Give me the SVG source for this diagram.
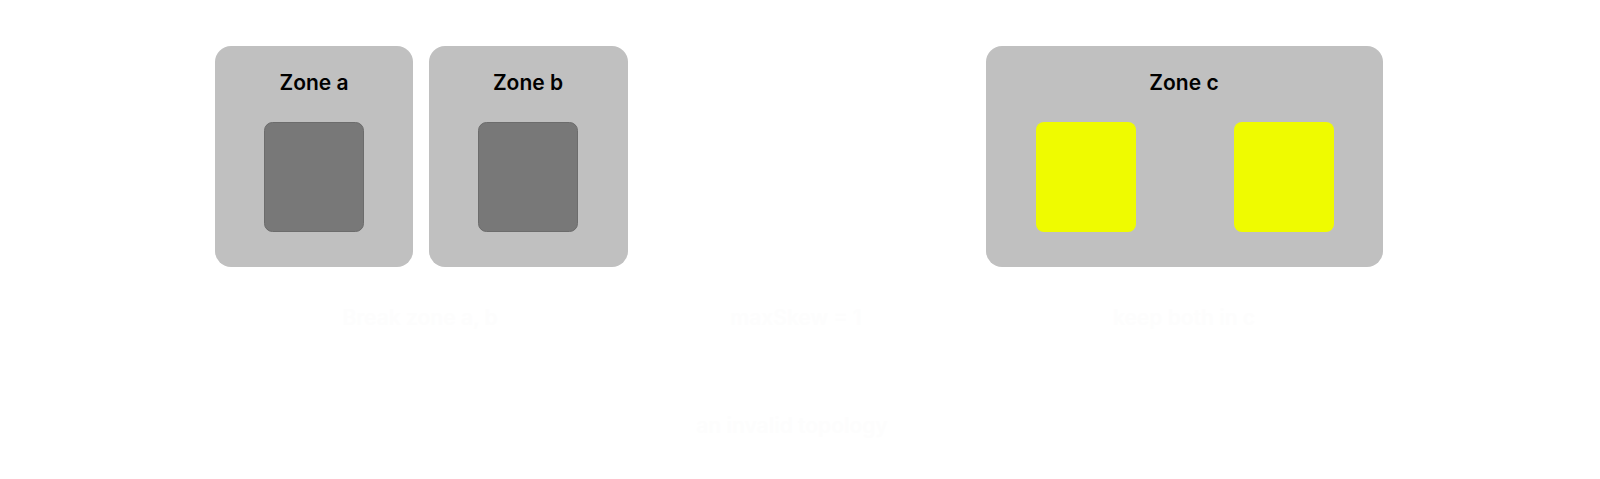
<svg xmlns="http://www.w3.org/2000/svg" width="1600" height="479" viewBox="0 0 1600 479">
<style>
.zone{fill:#c0c0c0}
.pod{fill:#787878;stroke:#6c6c6c;stroke-width:1}
.pody{fill:#effb00}
.title{font-family:Inter,"Liberation Sans",sans-serif;font-weight:600;font-size:21px;fill:#000;text-anchor:middle}
.cap{font-family:Inter,"Liberation Sans",sans-serif;font-weight:600;font-size:21px;fill:#fdfdfd;text-anchor:middle}
</style>
<rect width="1600" height="479" fill="#ffffff"/>
<g id="zone-a">
<rect class="zone" x="215" y="46" width="198" height="221" rx="16"/>
<text class="title" x="314" y="90">Zone a</text>
<rect class="pod" x="264.5" y="122.5" width="99" height="109" rx="8"/>
</g>
<g id="zone-b">
<rect class="zone" x="429" y="46" width="199" height="221" rx="16"/>
<text class="title" x="528" y="90">Zone b</text>
<rect class="pod" x="478.5" y="122.5" width="99" height="109" rx="8"/>
</g>
<g id="zone-c">
<rect class="zone" x="986" y="46" width="397" height="221" rx="16"/>
<text class="title" x="1184" y="90">Zone c</text>
<rect class="pody" x="1036" y="122" width="100" height="110" rx="8"/>
<rect class="pody" x="1234" y="122" width="100" height="110" rx="8"/>
</g>
<g id="connectors"></g>
<g id="captions">
<text class="cap" x="420" y="325">Break zone a, b</text>
<text class="cap" x="796" y="325">maxSkew = 1</text>
<text class="cap" x="1184" y="325">keep both in c</text>
<text class="cap" x="792" y="433">an invalid topology</text>
</g>
</svg>
